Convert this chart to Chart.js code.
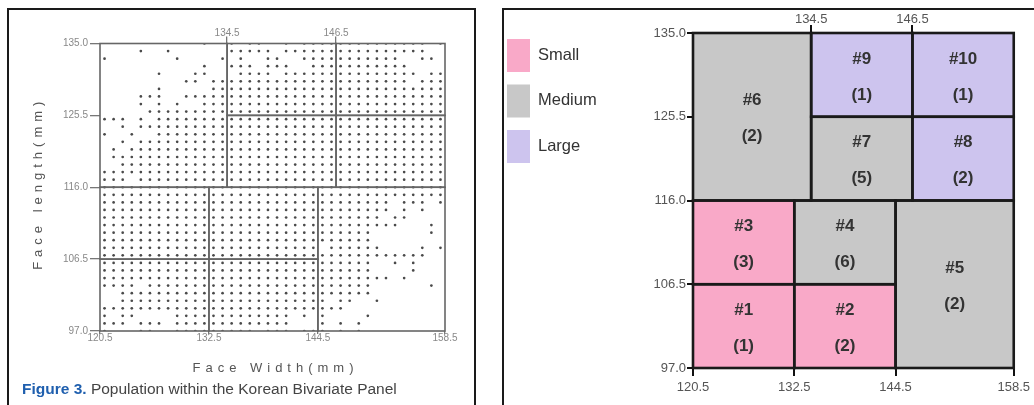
<!DOCTYPE html>
<html>
<head>
<meta charset="utf-8">
<title>Korean Bivariate Panel</title>
<script src="https://cdn.jsdelivr.net/npm/chart.js@4.4.1/dist/chart.umd.min.js"></script>
<style>
  html, body { margin: 0; padding: 0; background: #fff; }
  body { width: 1034px; height: 405px; position: relative; overflow: hidden; font-family: 'Liberation Sans', Arial, sans-serif; }
  .frame { position: absolute; border: 2px solid #1a1a1a; box-sizing: border-box; }
  #leftFrame { left: 7px; top: 8px; width: 469px; height: 430px; }
  #rightFrame { left: 502px; top: 8px; width: 560px; height: 430px; }
  .box { position: absolute; top: 0; height: 405px; }
  #leftBox { left: 0; width: 478px; }
  #rightBox { left: 503px; width: 531px; }
  #caption { position: absolute; left: 22px; top: 380px; font-size: 15.5px; color: #444; white-space: nowrap; }
  #caption b { color: #1f5fae; }
</style>
</head>
<body>
<div class="frame" id="leftFrame"></div>
<div class="frame" id="rightFrame"></div>
<div class="box" id="leftBox"><canvas id="population-chart" width="478" height="405"></canvas></div>
<div class="box" id="rightBox"><canvas id="panel-chart" width="531" height="405"></canvas></div>
<div id="caption"><b>Figure 3.</b> Population within the Korean Bivariate Panel</div>
<script>
// Korean bivariate panel: face width x face length (mm)
// left = measured population on a 1 mm grid, right = the 10 panel cells

const widthTicks = [120.5, 132.5, 144.5, 158.5];
const widthTopTicks = [134.5, 146.5];
const lengthTicks = [97.0, 106.5, 116.0, 125.5, 135.0];
const widthTitle = 'Face Width(mm)';
const lengthTitle = 'Face length(mm)';

// grid columns (face width) and rows (face length)
const dotWidths = [121, 122, 123, 124, 125, 126, 127, 128, 129, 130,
  131, 132, 133, 134, 135, 136, 137, 138, 139, 140,
  141, 142, 143, 144, 145, 146, 147, 148, 149, 150,
  151, 152, 153, 154, 155, 156, 157, 158];
const dotLengths = [135, 134, 133, 132, 131, 130, 129, 128, 127, 126,
  125, 124, 123, 122, 121, 120, 119, 118, 117, 116,
  115, 114, 113, 112, 111, 110, 109, 108, 107, 106,
  105, 104, 103, 102, 101, 100, 99, 98, 97];
// 'o' = people measured at that width/length, one string per row above
const dotRows = [
  '.......... .o..o.oo.. o.oooooooo oooooo.o',
  '....o..o.. ....ooooo. oooooooooo oooooo..',
  'o.......o. ...o.o..oo ..oooooooo ooo..oo.',
  '.......... .o..ooo.oo o..ooooooo oooo....',
  '......o... oo...oooo. oooooooooo ooooo.oo',
  '.........o o.oooooooo oooooooooo oooo.ooo',
  '......o... ..oooooooo oooooooooo oooooooo',
  '....ooo..o oooooooooo oooooooooo oooooooo',
  '....o.o.o. .ooooooooo oooooooooo oooooooo',
  '.....ooooo oooooooooo oooooooooo oooooooo',
  'ooo.o.oooo oooooooooo oooooooooo oooooooo',
  '..o.oooooo oooooooooo oooooooooo oooooooo',
  'o..o..oooo oooooooooo oooooooooo oooooooo',
  '..o.oooooo oooooooooo oooooooooo oooooooo',
  '.o.ooooooo oooooooooo oooooooooo oooooooo',
  '.ooooooooo oooooooooo oooooooooo oooooooo',
  '..oooooooo oooooooooo oooooooooo oooooooo',
  'oooooooooo oooooooooo oooooooooo oooooooo',
  'ooo.oooooo oooooooooo oooooooooo oooooooo',
  'oooooooooo oooooooooo oooooooooo oooooooo',
  'oooooooooo oooooooooo oooooooooo oooooooo',
  'oooooooooo oooooooooo oooooooooo oo.ooo.o',
  'oooooooooo oooooooooo oooooooooo oo.o.o..',
  'oooooooooo oooooooooo oooooooooo o.oo....',
  'oooooooooo oooooooooo oooooooooo ooo...o.',
  'oooooooooo oooooooooo oooooooooo ......o.',
  'oooooooooo oooooooooo oooooooooo ........',
  'oooooooooo oooooooooo oooo.ooooo o....o.o',
  'oooooooooo oooooooooo oooooooooo oooooo..',
  'oooooooooo oooooooooo oooooooooo ..o.o...',
  'oooooooooo oooooooooo oooooooooo ....o...',
  'oooooooooo oooooooooo oooooooooo oo.o....',
  'oooo.ooooo oooooooooo oooooooooo ......o.',
  '..oooooooo oooooooooo oooooooooo ........',
  '..oooooooo oooooooooo ooooo.oo.. o.......',
  'oooooooooo oooooooooo ooooooo... ........',
  'o.oo....oo oooooooooo o.o.o....o ........',
  'ooo.ooo.oo oooooooooo o...o.o.o. ........',
  'o...oo..oo ooooooo.oo o.ooo.o.o. ........'
];

// panel cells
const cellIds = ['#1', '#2', '#3', '#4', '#5', '#6', '#7', '#8', '#9', '#10'];
const cellCounts = [1, 2, 3, 6, 2, 2, 5, 2, 1, 1];
const cellSizes = ['Small', 'Small', 'Small', 'Medium', 'Medium', 'Medium', 'Medium', 'Large', 'Large', 'Large'];
const cellWidthFrom = [120.5, 132.5, 120.5, 132.5, 144.5, 120.5, 134.5, 146.5, 134.5, 146.5];
const cellWidthTo = [132.5, 144.5, 132.5, 144.5, 158.5, 134.5, 146.5, 158.5, 146.5, 158.5];
const cellLengthFrom = [97.0, 97.0, 106.5, 106.5, 97.0, 116.0, 116.0, 116.0, 125.5, 125.5];
const cellLengthTo = [106.5, 106.5, 116.0, 116.0, 116.0, 135.0, 125.5, 125.5, 135.0, 135.0];

const sizeNames = ['Small', 'Medium', 'Large'];
const sizeColors = ['#f9a9c8', '#c8c8c8', '#cdc4ee'];

const narrow = '"Liberation Sans Narrow", "Arial Narrow", sans-serif';

// build the scatter points from the grid rows
const populationPoints = [];
dotRows.forEach((row, r) => {
  const cells = row.replace(/ /g, '');
  for (let c = 0; c < cells.length; c++) {
    if (cells[c] === 'o') populationPoints.push({ x: dotWidths[c], y: dotLengths[r] });
  }
});

function fixedTicks(values) {
  return scale => { scale.ticks = values.map(v => ({ value: v })); };
}

function cellRect(chart, i) {
  const xs = chart.scales.x, ys = chart.scales.y;
  const x0 = xs.getPixelForValue(cellWidthFrom[i]);
  const x1 = xs.getPixelForValue(cellWidthTo[i]);
  const y0 = ys.getPixelForValue(cellLengthTo[i]);
  const y1 = ys.getPixelForValue(cellLengthFrom[i]);
  return { x0, y0, x1, y1 };
}

function buildScales(o) {
  return {
    x: {
      type: 'linear', position: 'bottom', min: 120.5, max: 158.5,
      afterBuildTicks: fixedTicks(widthTicks),
      afterFit: s => { s.height = o.bottomHeight; },
      grid: { drawOnChartArea: false, tickLength: o.xTickLen, color: o.tickColor, lineWidth: o.tickWidth },
      border: { display: false },
      ticks: { autoSkip: false, maxRotation: 0, padding: o.xPad, color: o.labelColor, font: o.font,
        callback: v => Number(v).toFixed(1) }
    },
    xTop: {
      type: 'linear', axis: 'x', position: 'top', min: 120.5, max: 158.5,
      afterBuildTicks: fixedTicks(widthTopTicks),
      afterFit: s => { s.height = o.topHeight; },
      grid: { drawOnChartArea: false, tickLength: o.topTickLen, color: o.tickColor, lineWidth: o.tickWidth },
      border: { display: false },
      ticks: { autoSkip: false, maxRotation: 0, padding: o.topPad, color: o.labelColor, font: o.font,
        callback: v => Number(v).toFixed(1) }
    },
    y: {
      type: 'linear', position: 'left', min: 97, max: 135,
      afterBuildTicks: fixedTicks(lengthTicks),
      afterFit: s => { s.width = o.leftWidth; },
      grid: { drawOnChartArea: false, tickLength: o.yTickLen, color: o.tickColor, lineWidth: o.tickWidth },
      border: { display: false },
      ticks: { autoSkip: false, padding: o.yPad, color: o.labelColor, font: o.font,
        callback: v => Number(v).toFixed(1) }
    }
  };
}

// left: population dots, cell outlines, spaced axis titles
const populationLines = {
  id: 'populationLines',
  afterDatasetsDraw(chart) {
    const ctx = chart.ctx;
    ctx.save();
    ctx.strokeStyle = '#666';
    ctx.lineWidth = 1.6;
    for (let i = 0; i < cellIds.length; i++) {
      const r = cellRect(chart, i);
      ctx.strokeRect(r.x0, r.y0, r.x1 - r.x0, r.y1 - r.y0);
    }
    ctx.restore();
  },
  afterDraw(chart) {
    const { ctx, chartArea } = chart;
    ctx.save();
    ctx.fillStyle = '#555';
    ctx.font = '13px "Liberation Sans", Arial, sans-serif';
    ctx.letterSpacing = '5px';
    ctx.textAlign = 'center';
    ctx.textBaseline = 'middle';
    ctx.fillText(widthTitle, (chartArea.left + chartArea.right) / 2 + 3, 368);
    ctx.translate(38, (chartArea.top + chartArea.bottom) / 2 - 4);
    ctx.rotate(-Math.PI / 2);
    ctx.fillText(lengthTitle, 0, 0);
    ctx.restore();
  }
};

new Chart(document.getElementById('population-chart'), {
  type: 'scatter',
  data: {
    datasets: [{
      label: 'Population',
      data: populationPoints,
      pointRadius: 1.35,
      pointBackgroundColor: '#4a4a4a',
      pointBorderWidth: 0
    }]
  },
  options: {
    responsive: false,
    animation: false,
    devicePixelRatio: 1,
    layout: { padding: { left: 0, right: 33, top: 0, bottom: 0 } },
    plugins: { legend: { display: false }, tooltip: { enabled: false } },
    scales: buildScales({
      bottomHeight: 74, topHeight: 43.5, leftWidth: 100,
      xTickLen: 3, topTickLen: 7, yTickLen: 10,
      xPad: -2, topPad: -2.5, yPad: 2,
      tickColor: '#777', tickWidth: 1.3, labelColor: '#888',
      font: { family: '"Liberation Sans", Arial, sans-serif', size: 10 }
    })
  },
  plugins: [populationLines]
});

// right: coloured panel cells with ids and counts, plus size legend
const panelCells = {
  id: 'panelCells',
  beforeDatasetsDraw(chart) {
    const ctx = chart.ctx;
    ctx.save();
    for (let i = 0; i < cellIds.length; i++) {
      const r = cellRect(chart, i);
      ctx.fillStyle = sizeColors[sizeNames.indexOf(cellSizes[i])];
      ctx.fillRect(r.x0, r.y0, r.x1 - r.x0, r.y1 - r.y0);
    }
    ctx.strokeStyle = '#1a1a1a';
    ctx.lineWidth = 2.6;
    for (let i = 0; i < cellIds.length; i++) {
      const r = cellRect(chart, i);
      ctx.strokeRect(r.x0, r.y0, r.x1 - r.x0, r.y1 - r.y0);
    }
    ctx.fillStyle = '#333';
    ctx.font = 'bold 17px ' + narrow;
    ctx.textAlign = 'center';
    ctx.textBaseline = 'middle';
    for (let i = 0; i < cellIds.length; i++) {
      const r = cellRect(chart, i);
      const cx = (r.x0 + r.x1) / 2, cy = (r.y0 + r.y1) / 2;
      ctx.fillText(cellIds[i], cx, cy - 16);
      ctx.fillText('(' + cellCounts[i] + ')', cx, cy + 20);
    }
    ctx.restore();
  },
  afterDraw(chart) {
    const ctx = chart.ctx;
    ctx.save();
    ctx.font = '16.5px ' + narrow;
    ctx.textBaseline = 'middle';
    sizeNames.forEach((name, i) => {
      const top = 39 + i * 45.5;
      ctx.fillStyle = sizeColors[i];
      ctx.fillRect(4, top, 23, 33);
      ctx.fillStyle = '#333';
      ctx.fillText(name, 35, top + 16);
    });
    ctx.restore();
  }
};

new Chart(document.getElementById('panel-chart'), {
  type: 'scatter',
  data: { datasets: [] },
  options: {
    responsive: false,
    animation: false,
    devicePixelRatio: 1,
    layout: { padding: { left: 0, right: 19, top: 0, bottom: 0 } },
    plugins: { legend: { display: false }, tooltip: { enabled: false } },
    scales: buildScales({
      bottomHeight: 37, topHeight: 33, leftWidth: 190,
      xTickLen: 8, topTickLen: 8, yTickLen: 6,
      xPad: 4, topPad: -2, yPad: 1,
      tickColor: '#111', tickWidth: 2, labelColor: '#555',
      font: { family: narrow, size: 13 }
    })
  },
  plugins: [panelCells]
});
</script>
</body>
</html>
